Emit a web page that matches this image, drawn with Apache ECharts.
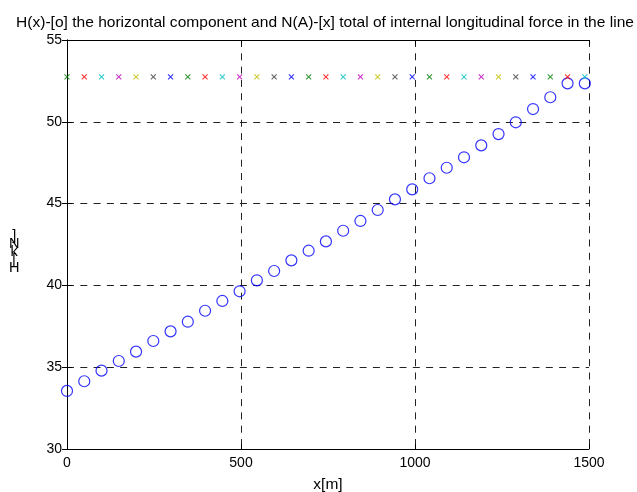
<!DOCTYPE html>
<html>
<head>
<meta charset="utf-8">
<script src="https://cdn.jsdelivr.net/npm/echarts@6/dist/echarts.min.js"></script>
<style>
html,body{margin:0;padding:0;background:#fff;}
#chart{width:637px;height:492px;}
</style>
</head>
<body>
<div id="chart"></div>
<script>
const titleText = "H(x)-[o] the horizontal component and N(A)-[x] total of internal longitudinal force in the line";
const xLabel = "x[m]";
const yLabelChars = "]\nN\nk\n[\nH";
const xPositions = [0, 49.6, 99.2, 148.8, 198.4, 248, 297.6, 347.2, 396.8, 446.4, 496, 545.6, 595.2, 644.8, 694.4, 744, 793.6, 843.2, 892.8, 942.4, 992, 1041.6, 1091.2, 1140.8, 1190.4, 1240, 1289.6, 1339.2, 1388.8, 1438.4, 1488];
const hValues = [33.55, 34.14, 34.79, 35.38, 35.95, 36.6, 37.19, 37.78, 38.45, 39.05, 39.64, 40.31, 40.88, 41.53, 42.12, 42.69, 43.34, 43.94, 44.61, 45.26, 45.87, 46.55, 47.19, 47.83, 48.56, 49.25, 49.97, 50.78, 51.5, 52.35, 52.35];
const nValues = [52.75, 52.75, 52.75, 52.75, 52.75, 52.75, 52.75, 52.75, 52.75, 52.75, 52.75, 52.75, 52.75, 52.75, 52.75, 52.75, 52.75, 52.75, 52.75, 52.75, 52.75, 52.75, 52.75, 52.75, 52.75, 52.75, 52.75, 52.75, 52.75, 52.75, 52.75];
const markerPalette = ["#008000", "#ff0000", "#00bfbf", "#bf00bf", "#bfbf00", "#404040", "#0000ff"];
const xTicks = [0, 500, 1000, 1500];
const yTicks = [30, 35, 40, 45, 50, 55];

const FONT = "'Liberation Sans', Arial, sans-serif";
const chart = echarts.init(document.getElementById('chart'));

const hData = xPositions.map((x, i) => [x, hValues[i]]);
const nData = xPositions.map((x, i) => ({
  value: [x, nValues[i]],
  itemStyle: { color: 'none', borderColor: markerPalette[i % markerPalette.length], borderWidth: 1.1 }
}));

const gridStyle = { show: true, lineStyle: { color: '#222', width: 1, type: [7, 6.3] } };
const plainNum = v => String(v);

const option = {
  backgroundColor: '#fff',
  animation: false,
  textStyle: { fontFamily: FONT },
  title: {
    text: titleText,
    left: 320, textAlign: 'center', top: 10,
    textStyle: { fontFamily: FONT, fontSize: 15.55, fontWeight: 'normal', color: '#000' }
  },
  grid: { left: 67, right: 48, top: 40, bottom: 43, containLabel: false, outerBoundsMode: 'none' },
  xAxis: [{
    type: 'value', min: xTicks[0], max: xTicks[xTicks.length - 1], interval: 500,
    position: 'bottom',
    axisLine: { show: true, lineStyle: { color: '#000', width: 1 } },
    axisTick: { show: true, inside: true, length: 5, lineStyle: { color: '#000' } },
    axisLabel: { color: '#000', fontSize: 14, margin: 7, fontFamily: FONT, formatter: plainNum },
    splitLine: gridStyle,
    name: xLabel, nameLocation: 'middle', nameGap: 28,
    nameTextStyle: { color: '#000', fontSize: 15.5, fontFamily: FONT }
  }, {
    type: 'value', min: xTicks[0], max: xTicks[xTicks.length - 1], interval: 500,
    position: 'top',
    axisLine: { show: true, lineStyle: { color: '#000', width: 1 } },
    axisTick: { show: true, inside: true, length: 5, lineStyle: { color: '#000' } },
    axisLabel: { show: false }, splitLine: { show: false }
  }],
  yAxis: [{
    type: 'value', min: yTicks[0], max: yTicks[yTicks.length - 1], interval: 5,
    position: 'left',
    axisLine: { show: true, lineStyle: { color: '#000', width: 1 } },
    axisTick: { show: true, inside: true, length: 5, lineStyle: { color: '#000' } },
    axisLabel: { color: '#000', fontSize: 14, margin: 5, fontFamily: FONT, formatter: plainNum },
    splitLine: gridStyle
  }, {
    type: 'value', min: yTicks[0], max: yTicks[yTicks.length - 1], interval: 5,
    position: 'right',
    axisLine: { show: true, lineStyle: { color: '#000', width: 1 } },
    axisTick: { show: true, inside: true, length: 5, lineStyle: { color: '#000' } },
    axisLabel: { show: false }, splitLine: { show: false }
  }],
  graphic: [{
    type: 'text', left: 9, top: 228,
    style: { text: yLabelChars, fontFamily: FONT, fontSize: 14.5, lineHeight: 8, fill: '#000', textAlign: 'center' }
  }],
  series: [{
    type: 'scatter', name: 'H', xAxisIndex: 0, yAxisIndex: 0,
    data: hData, symbol: 'circle', symbolSize: 11,
    itemStyle: { color: 'rgba(0,0,0,0)', borderColor: '#0000ff', borderWidth: 1.2 },
    z: 3
  }, {
    type: 'scatter', name: 'N', xAxisIndex: 0, yAxisIndex: 0,
    data: nData, symbol: 'path://M0,0L10,10M10,0L0,10', symbolSize: 5,
    z: 4
  }]
};
chart.setOption(option);
</script>
</body>
</html>
